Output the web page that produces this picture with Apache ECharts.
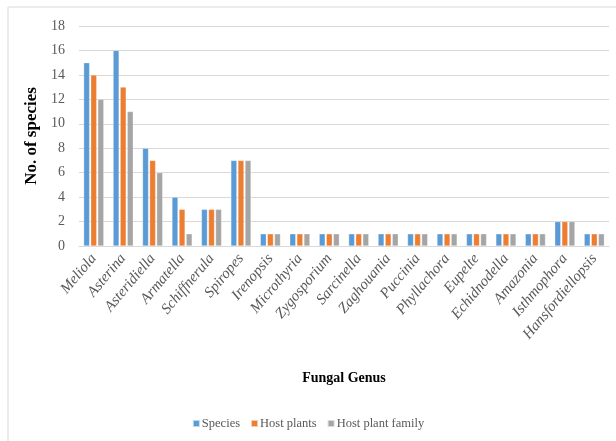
<!DOCTYPE html>
<html>
<head>
<meta charset="utf-8">
<script src="https://cdn.jsdelivr.net/npm/echarts@6/dist/echarts.min.js"></script>
<style>
  html, body { margin: 0; padding: 0; background: #fff; }
  #chart { width: 616px; height: 441px; }
</style>
</head>
<body>
<div id="chart"></div>
<script>
// genus names along the x axis
var genera = ['Meliola', 'Asterina', 'Asteridiella', 'Armatella', 'Schiffnerula', 'Spiropes',
    'Irenopsis', 'Microthyria', 'Zygosporium', 'Sarcinella', 'Zaghouania', 'Puccinia',
    'Phyllachora', 'Eupelte', 'Echidnodella', 'Amazonia', 'Isthmophora', 'Hansfordiellopsis'];
var species = [15, 16, 8, 4, 3, 7, 1, 1, 1, 1, 1, 1, 1, 1, 1, 1, 2, 1];
var hostPlants = [14, 13, 7, 3, 3, 7, 1, 1, 1, 1, 1, 1, 1, 1, 1, 1, 2, 1];
var hostFamily = [12, 11, 6, 1, 3, 7, 1, 1, 1, 1, 1, 1, 1, 1, 1, 1, 2, 1];
var yTicks = [0, 2, 4, 6, 8, 10, 12, 14, 16, 18];

var serif = '"Liberation Serif", "Times New Roman", serif';

function barSeries(name, data, color) {
    return {
        name: name,
        type: 'bar',
        data: data,
        barWidth: 6,
        barGap: '18%',
        itemStyle: { color: color, borderColor: 'rgba(255,255,255,0.6)', borderWidth: 0.5 }
    };
}

var option = {
    animation: false,
    backgroundColor: '#fff',
    textStyle: { fontFamily: serif },
    graphic: [{
        type: 'rect',
        shape: { x: 8, y: 7, width: 640, height: 460 },
        style: { fill: 'none', stroke: '#d9d9d9', lineWidth: 1 },
        silent: true
    }],
    grid: { left: 79, right: 7, top: 26, bottom: 195 },
    legend: {
        bottom: 6,
        left: 'center',
        itemWidth: 7,
        itemHeight: 7,
        itemGap: 10,
        icon: 'rect',
        textStyle: { fontFamily: serif, fontSize: 12.5, color: '#595959', padding: [0, 0, 0, -3] },
        data: ['Species', 'Host plants', 'Host plant family']
    },
    xAxis: {
        type: 'category',
        data: genera,
        name: 'Fungal Genus',
        nameLocation: 'middle',
        nameGap: 125,
        nameTextStyle: { fontFamily: serif, fontSize: 14, fontWeight: 'bold', color: '#000' },
        axisLine: { lineStyle: { color: '#d9d9d9' } },
        axisTick: { show: false },
        axisLabel: {
            interval: 0,
            rotate: 50,
            margin: 10,
            fontFamily: serif,
            fontStyle: 'italic',
            fontSize: 15,
            color: '#595959'
        }
    },
    yAxis: {
        type: 'value',
        min: yTicks[0],
        max: yTicks[yTicks.length - 1],
        interval: 2,
        name: 'No. of species',
        nameLocation: 'middle',
        nameGap: 38,
        nameTextStyle: { fontFamily: serif, fontSize: 17, fontWeight: 'bold', color: '#000' },
        axisLine: { show: false },
        axisTick: { show: false },
        axisLabel: { fontFamily: serif, fontSize: 14, color: '#595959', margin: 14 },
        splitLine: { lineStyle: { color: '#d9d9d9' } }
    },
    series: [
        barSeries('Species', species, '#5b9bd5'),
        barSeries('Host plants', hostPlants, '#ed7d31'),
        barSeries('Host plant family', hostFamily, '#a5a5a5')
    ]
};

var myChart = echarts.init(document.getElementById('chart'));
myChart.setOption(option);
</script>
</body>
</html>
